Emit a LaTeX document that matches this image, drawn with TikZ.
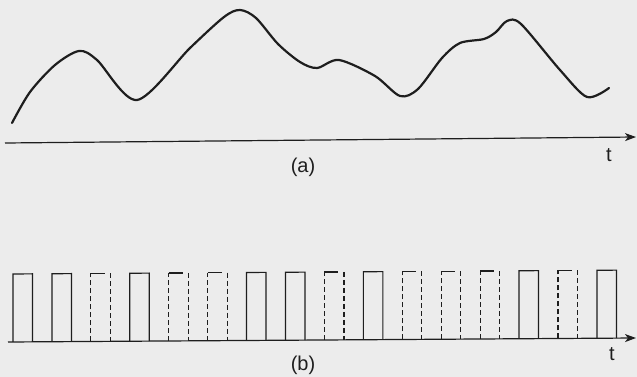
\documentclass[tikz,border=0pt]{standalone}
\usepackage{fontspec}
\setmainfont{Liberation Sans}
\usetikzlibrary{arrows.meta}
\definecolor{paper}{RGB}{236,236,236}
\definecolor{ink}{RGB}{30,30,30}
\tikzset{
  axis/.style={-{Stealth[length=11pt, width=8pt, inset=3pt]}, line width=1.2pt, ink},
  signal/.style={line width=2.2pt, ink, line cap=round, line join=round},
  pulse/.style={line width=1.2pt, ink},
  dashpulse/.style={line width=1.2pt, ink, dash pattern=on 5pt off 3pt},
  lbl/.style={font=\fontsize{20}{23}\selectfont, inner sep=0pt, ink},
  every node/.style={font=\small}
}

\begin{document}
\begin{tikzpicture}[x=1pt, y=-1pt]
    \fill[paper] (0,0) rectangle (637,377);
    \useasboundingbox (0,0) rectangle (637,377);

    % (a) analogue signal
    \coordinate (a0) at (5,143);
    \coordinate (a1) at (636,137);
    \draw[axis] (a0) -- (a1);
    \node[lbl] (ta) at (609,155) {t};
    \node[lbl] (capa) at (303,167) {(a)};
    \draw[signal] plot[smooth, tension=0.5] coordinates {
      (12,123) (30,92) (55,65) (79,51) (97,60) (137,100) (190,48)
      (224,17) (240,10) (256,18) (278,44) (300,62) (317,68) (339,60)
      (375,76) (400,96) (418,89) (442,58) (460,43) (484,39) (496,32)
      (507,21) (521,24) (560,70) (587,97) (609,88)};

    % (b) sampled pulses
    \coordinate (b0) at (8,342);
    \coordinate (b1) at (636,338);
    \draw[axis] (b0) -- (b1);
    \node[lbl] (tb) at (612,354) {t};
    \node[lbl] (capb) at (303,365) {(b)};
    \foreach \kind [count=\i from 0] in {S,S,D,S,D,D,S,S,D,S,D,D,D,S,D,S} {
      \pgfmathsetmacro{\xl}{13+38.93*\i}
      \pgfmathsetmacro{\xr}{\xl+19.5}
      \pgfmathsetmacro{\yl}{342-4*(\xl-8)/628}
      \pgfmathsetmacro{\yr}{342-4*(\xr-8)/628}
      \pgfmathsetmacro{\xm}{\xl+14}
      \if S\kind
        \draw[pulse] (\xl,\yl) -- (\xl,\yl-68) -- (\xr,\yr-68) -- (\xr,\yr);
      \else
        \draw[dashpulse] (\xl,\yl) -- (\xl,\yl-68);
        \draw[pulse] (\xl,\yl-68) -- (\xm,\yl-68);
        \draw[dashpulse] (\xr,\yr-68) -- (\xr,\yr);
      \fi
    }
\end{tikzpicture}
\end{document}
